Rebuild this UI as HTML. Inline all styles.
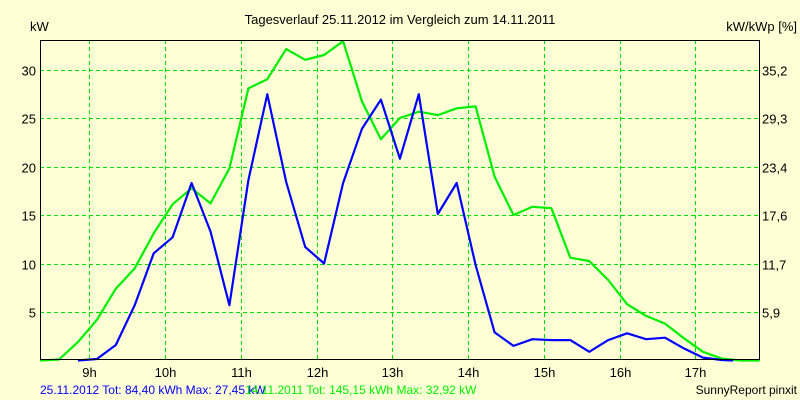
<!DOCTYPE html>
<html><head><meta charset="utf-8"><style>
body{margin:0;background:#ffffd5;}
svg{display:block;font-family:"Liberation Sans",sans-serif;}
</style></head><body>
<svg id="chart" width="800" height="400">
<rect x="0" y="0" width="800" height="400" fill="#ffffd5"/>
<text x="400" y="24" font-size="13" text-anchor="middle">Tagesverlauf 25.11.2012 im Vergleich zum 14.11.2011</text>
<text x="30" y="31" font-size="13">kW</text>
<text x="797" y="31" font-size="13" text-anchor="end">kW/kWp [%]</text>
<g id="grid"></g>
<g id="series"></g>
<rect x="40.5" y="40.5" width="719" height="319" fill="none" stroke="#000" stroke-width="1"/>
<g id="labels"></g>
<text x="40" y="394" font-size="12" fill="#0000ff">25.11.2012 Tot: 84,40 kWh Max: 27,45 kW</text>
<text x="245" y="394" font-size="12" fill="#00ee00">14.11.2011 Tot: 145,15 kWh Max: 32,92 kW</text>
<text x="797" y="394" font-size="12" text-anchor="end">SunnyReport pinxit</text>
</svg>
<script>
const yTicks=[5,10,15,20,25,30];
const y2Labels=["5,9","11,7","17,6","23,4","29,3","35,2"];
const xTicks=[9,10,11,12,13,14,15,16,17];
const blueTimes=[8.85,9.1,9.35,9.6,9.85,10.1,10.35,10.6,10.85,11.1,11.35,11.6,11.85,12.1,12.35,12.6,12.85,13.1,13.35,13.6,13.85,14.1,14.35,14.6,14.85,15.1,15.35,15.6,15.85,16.1,16.35,16.6,16.85,17.1,17.35,17.5];
const blueValues=[0,0.15,1.6,5.7,11.05,12.7,18.3,13.3,5.7,18.6,27.45,18.4,11.7,10.0,18.3,23.9,26.9,20.8,27.45,15.1,18.3,9.85,2.9,1.5,2.2,2.1,2.1,0.9,2.1,2.8,2.2,2.35,1.25,0.3,0.05,0];
const greenTimes=[8.35,8.6,8.85,9.1,9.35,9.6,9.85,10.1,10.35,10.6,10.85,11.1,11.35,11.6,11.85,12.1,12.35,12.6,12.85,13.1,13.35,13.6,13.85,14.1,14.35,14.6,14.85,15.1,15.35,15.6,15.85,16.1,16.35,16.6,16.85,17.1,17.35,17.6,17.85];
const greenValues=[0,0.1,1.9,4.2,7.4,9.5,13.1,16.1,17.75,16.2,19.8,28.05,29.0,32.1,31.0,31.5,32.92,26.7,22.8,25.0,25.65,25.3,26.0,26.2,18.95,15.0,15.85,15.7,10.6,10.25,8.3,5.8,4.6,3.8,2.3,0.9,0.2,0,0];

const NS="http://www.w3.org/2000/svg";
function xOf(h){return 89.3+(h-9)*75.75;}
function yOf(v){return 360.5-v*9.7;}
const grid=document.getElementById('grid'),labels=document.getElementById('labels'),series=document.getElementById('series');
function mk(tag,attrs,parent){const e=document.createElementNS(NS,tag);for(const k in attrs)e.setAttribute(k,attrs[k]);parent.appendChild(e);return e;}
yTicks.forEach((v,i)=>{
  const y=Math.round(yOf(v))+0.5;
  const l=mk('line',{x1:40,x2:760,y1:y,y2:y,stroke:'#00dd00','stroke-dasharray':'4,3'},grid);
  
  
  const t=mk('text',{x:36,y:y+5,'font-size':13,'text-anchor':'end'},labels);
  t.textContent=v;
  
  
  const t2=mk('text',{x:762,y:y+5,'font-size':13},labels);
  t2.textContent=y2Labels[i];
  
  
});
xTicks.forEach(h=>{
  const x=Math.round(xOf(h))+0.5;
  const l=mk('line',{x1:x,x2:x,y1:40,y2:360,stroke:'#00dd00','stroke-dasharray':'4,3'},grid);
  
  
  const t=mk('text',{x:x,y:377,'font-size':13,'text-anchor':'middle'},labels);
  t.textContent=h+'h';
  
  
});
function line(times,vals,color,name){
  const pts=times.map((t,i)=>xOf(t).toFixed(1)+','+yOf(vals[i]).toFixed(1)).join(' ');
  const p=mk('polyline',{points:pts,fill:'none',stroke:color,'stroke-width':2.2,'stroke-linejoin':'round'},series);
  
  
}
line(greenTimes,greenValues,'#00ee00','series-2011-line');
line(blueTimes,blueValues,'#0000ff','series-2012-line');
</script>
</body></html>
